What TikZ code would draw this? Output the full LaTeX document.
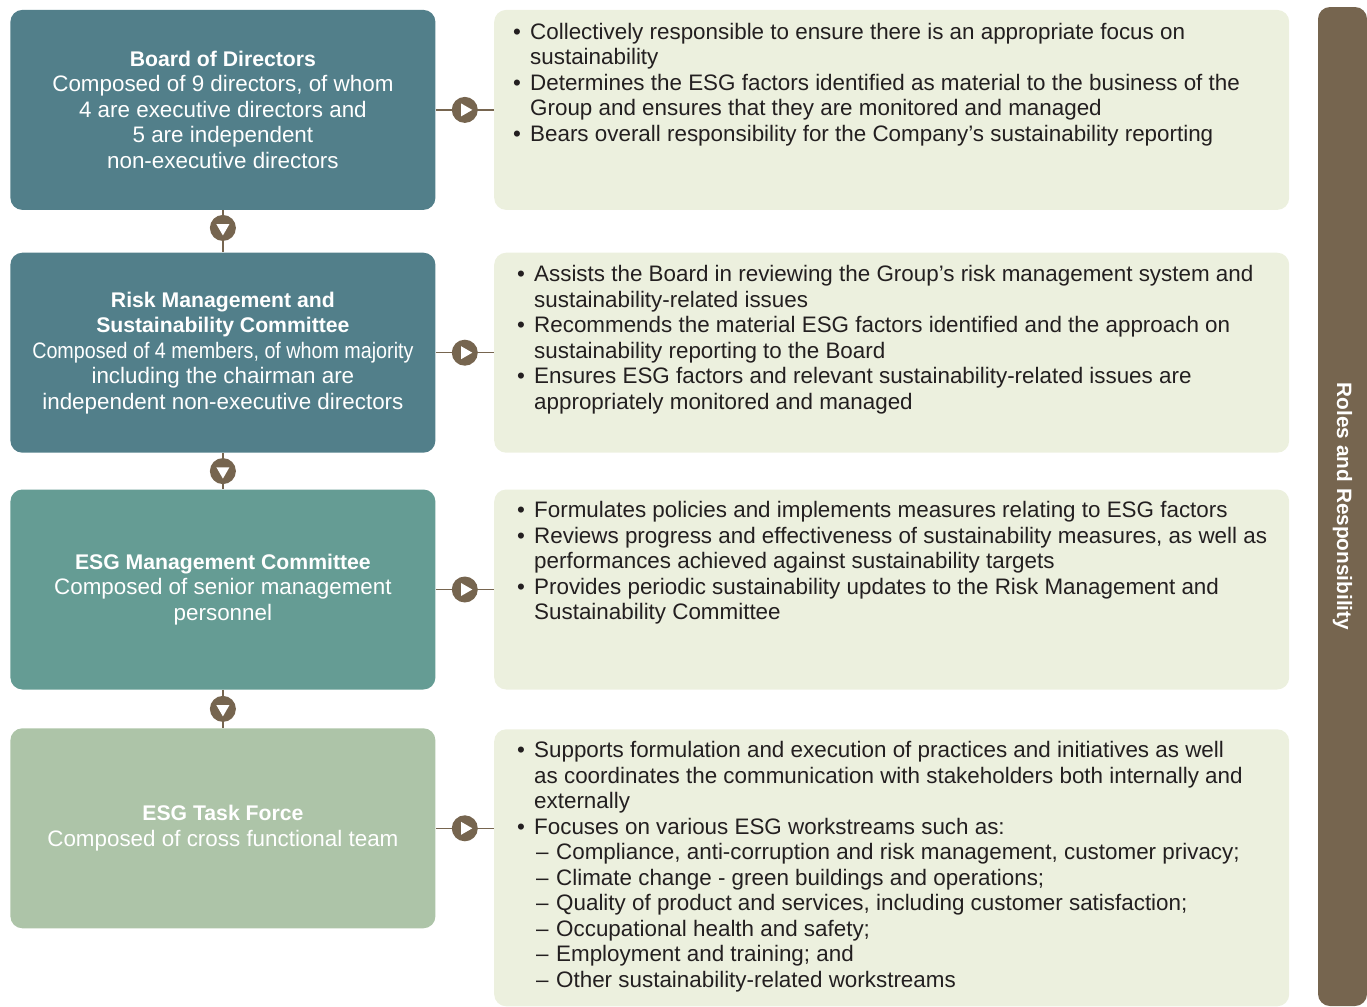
\documentclass[tikz,border=0pt]{standalone}
\usepackage{fontspec}
\setmainfont{Liberation Sans}
\usetikzlibrary{positioning, shapes.geometric}

\definecolor{boardteal}{HTML}{527F8A}
\definecolor{esgteal}{HTML}{659C94}
\definecolor{forcegreen}{HTML}{ADC4A8}
\definecolor{rolefill}{HTML}{ECF0DE}
\definecolor{barbrown}{HTML}{76654F}
\definecolor{textgray}{HTML}{231F20}

\newcommand{\bul}{\makebox[8.5pt][l]{\textbullet}}
\newcommand{\hang}{\hspace*{8.5pt}}
\newcommand{\subdash}{\hang\makebox[11pt][l]{\hspace{1pt}–}}
\newcommand{\boxtitle}[1]{{\bfseries\fontsize{10.6}{12.75}\selectfont #1}}

\begin{document}
\begin{tikzpicture}[
  font=\fontsize{11.2}{12.75}\selectfont,
  bodybox/.style={rounded corners=6pt, minimum width=212.5pt, minimum height=100pt, align=center, text=white, inner sep=0pt},
  rolebox/.style={fill=rolefill, rounded corners=6pt, minimum width=397.5pt, minimum height=100pt, inner sep=0pt},
  roletext/.style={anchor=north west, align=left, inner sep=0pt, text=textgray},
  link/.style={draw=barbrown, line width=0.6pt},
  stepdot/.style={circle, fill=barbrown, minimum size=13pt, inner sep=0pt},
  steptri/.style={regular polygon, regular polygon sides=3, fill=white, minimum size=7.5pt, inner sep=0pt}
]
\useasboundingbox (0,0) rectangle (683.5pt,-503.5pt);

\node[bodybox, fill=boardteal, anchor=north west] (board) at (5pt,-4.75pt)
  {\boxtitle{Board of Directors}\\ Composed of 9 directors, of whom\\ 4 are executive directors and\\ 5 are independent\\ non-executive directors};
\node[bodybox, fill=boardteal, below=21pt of board] (rmsc)
  {\boxtitle{Risk Management and}\\ \boxtitle{Sustainability Committee}\\ \scalebox{0.88}[1]{Composed of 4 members, of whom majority}\\ including the chairman are\\ independent non-executive directors};
\node[bodybox, fill=esgteal, below=18pt of rmsc] (esgmc)
  {\boxtitle{ESG Management Committee}\\ Composed of senior management\\ personnel};
\node[bodybox, fill=forcegreen, below=19pt of esgmc] (taskforce)
  {\boxtitle{ESG Task Force}\\ Composed of cross functional team};

\node[rolebox, right=29pt of board] (boardroles) {};
\node[rolebox, right=29pt of rmsc] (rmscroles) {};
\node[rolebox, right=29pt of esgmc] (esgmcroles) {};
\node[rolebox, minimum height=138.5pt, anchor=north west] (forceroles) at ([xshift=29pt,yshift=-0.5pt]taskforce.north east) {};

\node[roletext] (boardtext) at ([shift={(9.5pt,-6.5pt)}]boardroles.north west)
  {\bul Collectively responsible to ensure there is an appropriate focus on\\
   \hang sustainability\\
   \bul Determines the ESG factors identified as material to the business of the\\
   \hang Group and ensures that they are monitored and managed\\
   \bul Bears overall responsibility for the Company’s sustainability reporting};
\node[roletext] (rmsctext) at ([shift={(11.5pt,-6.5pt)}]rmscroles.north west)
  {\bul Assists the Board in reviewing the Group’s risk management system and\\
   \hang sustainability-related issues\\
   \bul Recommends the material ESG factors identified and the approach on\\
   \hang sustainability reporting to the Board\\
   \bul Ensures ESG factors and relevant sustainability-related issues are\\
   \hang appropriately monitored and managed};
\node[roletext] (esgmctext) at ([shift={(11.5pt,-6pt)}]esgmcroles.north west)
  {\bul Formulates policies and implements measures relating to ESG factors\\
   \bul Reviews progress and effectiveness of sustainability measures, as well as\\
   \hang performances achieved against sustainability targets\\
   \bul Provides periodic sustainability updates to the Risk Management and\\
   \hang Sustainability Committee};
\node[roletext] (forcetext) at ([shift={(11.5pt,-6pt)}]forceroles.north west)
  {\bul Supports formulation and execution of practices and initiatives as well\\
   \hang as coordinates the communication with stakeholders both internally and\\
   \hang externally\\
   \bul Focuses on various ESG workstreams such as:\\
   \subdash Compliance, anti-corruption and risk management, customer privacy;\\
   \subdash Climate change - green buildings and operations;\\
   \subdash Quality of product and services, including customer satisfaction;\\
   \subdash Occupational health and safety;\\
   \subdash Employment and training; and\\
   \subdash Other sustainability-related workstreams};

\draw[link] (board) -- (boardroles) node[midway, stepdot] (boarddot) {};
\draw[link] (rmsc) -- (rmscroles) node[midway, stepdot] (rmscdot) {};
\draw[link] (esgmc) -- (esgmcroles) node[midway, stepdot] (esgmcdot) {};
\draw[link] (taskforce.east) -- (taskforce.east -| forceroles.west) node[midway, stepdot] (forcedot) {};
\node[steptri, shape border rotate=-90] (boardtri) at (boarddot) {};
\node[steptri, shape border rotate=-90] (rmsctri) at (rmscdot) {};
\node[steptri, shape border rotate=-90] (esgmctri) at (esgmcdot) {};
\node[steptri, shape border rotate=-90] (forcetri) at (forcedot) {};

\draw[link] (board) -- (rmsc) node[pos=0.42, stepdot] (downdot1) {};
\draw[link] (rmsc) -- (esgmc) node[midway, stepdot] (downdot2) {};
\draw[link] (esgmc) -- (taskforce) node[midway, stepdot] (downdot3) {};
\node[steptri, shape border rotate=180] (downtri1) at (downdot1) {};
\node[steptri, shape border rotate=180] (downtri2) at (downdot2) {};
\node[steptri, shape border rotate=180] (downtri3) at (downdot3) {};

\node[fill=barbrown, rounded corners=6pt, minimum width=499.5pt, minimum height=24.5pt, inner sep=0pt, rotate=-90,
  text=white, font=\bfseries\fontsize{10.4}{12}\selectfont] (rolesbar) at (671.25pt,-253.25pt) {Roles and Responsibility};
\end{tikzpicture}
\end{document}
